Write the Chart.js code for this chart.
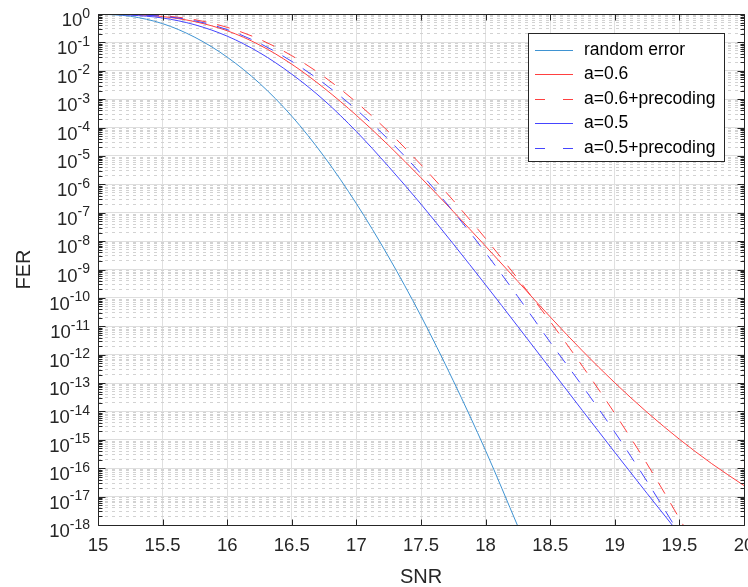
<!DOCTYPE html>
<html><head><meta charset="utf-8">
<script src="https://cdn.jsdelivr.net/npm/chart.js@4.4.0/dist/chart.umd.min.js"></script>
<style>html,body{margin:0;padding:0;background:#fff;}canvas{display:block;}</style>
</head><body>
<canvas id="c" width="748" height="587"></canvas>
<script>
// ---- data ----
const snr = [15,15.25,15.5,15.75,16,16.25,16.5,16.75,17,17.25,17.5,17.75,18,18.25,18.5,18.75,19,19.25,19.5,19.75,20];
const randomError = [1,0.832,0.457,0.151,3.02e-2,3.63e-3,2.51e-4,9.55e-6,2.09e-7,2.75e-9,2.29e-11,1.20e-13,4.17e-16,8.91e-19];
const a06 = [1,0.955,0.813,0.537,0.257,8.13e-2,1.70e-2,2.45e-3,2.69e-4,2.34e-5,1.70e-6,1.10e-7,6.61e-9,3.80e-10,2.14e-11,1.35e-12,1.02e-13,9.33e-15,1.05e-15,1.45e-16,2.45e-17];
const a06Precoding = [1,0.977,0.871,0.631,0.339,0.129,3.39e-2,6.17e-3,7.76e-4,7.08e-5,4.90e-6,2.69e-7,1.23e-8,4.68e-10,1.48e-11,3.89e-13,8.51e-15,1.41e-16,1.70e-18,1.70e-20];
const a05 = [1,0.912,0.724,0.417,0.166,4.37e-2,7.59e-3,9.12e-4,7.24e-5,4.17e-6,2.0e-7,7.94e-9,2.88e-10,9.77e-12,3.24e-13,1.07e-14,3.63e-16,1.29e-17,4.79e-19];
const a05Precoding = [1,0.955,0.832,0.575,0.282,9.33e-2,2.14e-2,3.55e-3,4.27e-4,3.72e-5,2.34e-6,1.10e-7,3.89e-9,1.10e-10,2.75e-12,7.76e-14,1.86e-15,3.39e-17,4.90e-19];
const seriesLabels = ['random error','a=0.6','a=0.6+precoding','a=0.5','a=0.5+precoding'];
const xTickValues = [15,15.5,16,16.5,17,17.5,18,18.5,19,19.5,20];
const xTickLabels = ['15','15.5','16','16.5','17','17.5','18','18.5','19','19.5','20'];
const yTickExponents = [0,-1,-2,-3,-4,-5,-6,-7,-8,-9,-10,-11,-12,-13,-14,-15,-16,-17,-18];
const yMinorMultipliers = [2,3,4,5,6,7,8,9];
const xTitle = 'SNR';
const yTitle = 'FER';

// ---- styling ----
const FONT = "'Liberation Sans', Arial, Helvetica, sans-serif";
const AX = '#262626';
const styles = [
  {color:'#3f93d2', dashed:false},
  {color:'#ff4040', dashed:false},
  {color:'#ff4040', dashed:true},
  {color:'#4545ff', dashed:false},
  {color:'#4545ff', dashed:true}
];
const seriesValues = [randomError, a06, a06Precoding, a05, a05Precoding];

const datasets = seriesValues.map((arr, i) => ({
  label: seriesLabels[i],
  data: arr.map((v, k) => ({x: snr[k], y: v})),
  borderColor: styles[i].color,
  backgroundColor: styles[i].color,
  borderWidth: 1,
  borderDash: styles[i].dashed ? [13, 11] : [],
  pointRadius: 0,
  fill: false,
  cubicInterpolationMode: 'monotone',
  order: seriesValues.length - 1 - i
}));

function isDecade(v) {
  const l = Math.log10(v);
  return Math.abs(l - Math.round(l)) < 1e-6;
}

const framePlugin = {
  id: 'frame',
  afterDraw(chart) {
    const {ctx, chartArea, scales} = chart;
    const x = scales.x, y = scales.y;
    const L = chartArea.left + 0.5, R = chartArea.right + 0.5;
    const T = chartArea.top + 0.5, B = chartArea.bottom + 0.5;
    ctx.save();
    ctx.strokeStyle = AX;
    ctx.lineWidth = 1;
    ctx.setLineDash([]);
    ctx.beginPath();
    ctx.rect(L, T, R - L, B - T);
    ctx.stroke();
    // y ticks (inward, both sides)
    ctx.beginPath();
    y.ticks.forEach(t => {
      const p = Math.round(y.getPixelForValue(t.value)) + 0.5;
      const len = isDecade(t.value) ? 7 : 4;
      ctx.moveTo(L, p); ctx.lineTo(L + len, p);
      ctx.moveTo(R, p); ctx.lineTo(R - len, p);
    });
    // x ticks (inward, bottom and top)
    x.ticks.forEach(t => {
      const p = Math.round(x.getPixelForValue(t.value)) + 0.5;
      ctx.moveTo(p, B); ctx.lineTo(p, B - 6);
      ctx.moveTo(p, T); ctx.lineTo(p, T + 6);
    });
    ctx.stroke();
    // y tick labels 10^e
    ctx.fillStyle = AX;
    ctx.textBaseline = 'alphabetic';
    ctx.textAlign = 'left';
    const baseFont = '18.5px ' + FONT;
    const supFont = '14px ' + FONT;
    yTickExponents.forEach(e => {
      const p = y.getPixelForValue(Math.pow(10, e));
      const sup = String(e);
      ctx.font = supFont;
      const ws = ctx.measureText(sup).width;
      ctx.font = baseFont;
      const wb = ctx.measureText('10').width;
      const right = 90;
      ctx.fillText('10', right - ws - wb, p + 12);
      ctx.font = supFont;
      ctx.fillText(sup, right - ws, p + 3.5);
    });
    // legend
    const bx = 528.5, by = 33.5, bw = 196, bh = 128;
    ctx.fillStyle = '#ffffff';
    ctx.fillRect(bx, by, bw, bh);
    ctx.strokeStyle = AX;
    ctx.strokeRect(bx, by, bw, bh);
    ctx.font = '17.5px ' + FONT;
    ctx.textBaseline = 'middle';
    chart.data.datasets.forEach((ds, i) => {
      const ry = Math.round(50 + i * 24.4) + 0.5;
      ctx.strokeStyle = ds.borderColor;
      ctx.lineWidth = 1;
      ctx.setLineDash(ds.borderDash.length ? [10, 18] : []);
      ctx.beginPath();
      ctx.moveTo(535, ry); ctx.lineTo(573, ry);
      ctx.stroke();
      ctx.setLineDash([]);
      ctx.fillStyle = '#000000';
      ctx.fillText(ds.label, 584, ry);
    });
    ctx.restore();
  }
};

new Chart(document.getElementById('c'), {
  type: 'line',
  data: {datasets},
  options: {
    responsive: false,
    animation: false,
    devicePixelRatio: 1,
    layout: {padding: {left: 0, right: 4, top: 14, bottom: 0}},
    plugins: {legend: {display: false}, tooltip: {enabled: false}},
    scales: {
      x: {
        type: 'linear', min: 15, max: 20,
        afterBuildTicks: s => { s.ticks = xTickValues.map(v => ({value: v})); },
        afterFit: s => { s.height = 62; s.paddingLeft = 0; s.paddingRight = 0; },
        ticks: {autoSkip: false, maxRotation: 0, minRotation: 0, padding: 10, color: AX,
          font: {family: FONT, size: 18.5}, callback: (v, i) => xTickLabels[i]},
        grid: {color: '#e0e0e0', lineWidth: 1, drawTicks: false},
        border: {display: false},
        title: {display: true, text: xTitle, color: AX, font: {family: FONT, size: 20, lineHeight: 1}, padding: {top: 0, bottom: 0}}
      },
      y: {
        type: 'logarithmic', min: 1e-18, max: 1,
        afterBuildTicks: s => {
          const t = [];
          yTickExponents.forEach(e => {
            t.push({value: Math.pow(10, e)});
            if (e < 0) yMinorMultipliers.forEach(m => t.push({value: m * Math.pow(10, e)}));
          });
          t.sort((a, b) => a.value - b.value);
          s.ticks = t;
        },
        afterFit: s => { s.width = 98; s.paddingTop = 0; s.paddingBottom = 0; },
        ticks: {display: false},
        grid: {drawTicks: false, lineWidth: 1,
          color: c => (c.tick && !isDecade(c.tick.value)) ? '#d2d2d2' : '#dedede'},
        border: {display: false,
          dash: c => (c.tick && !isDecade(c.tick.value)) ? [3, 4] : []},
        title: {display: true, text: yTitle, color: AX, font: {family: FONT, size: 20, lineHeight: 1}, padding: {top: 14.5, bottom: 0}}
      }
    }
  },
  plugins: [framePlugin]
});
</script>
</body></html>
